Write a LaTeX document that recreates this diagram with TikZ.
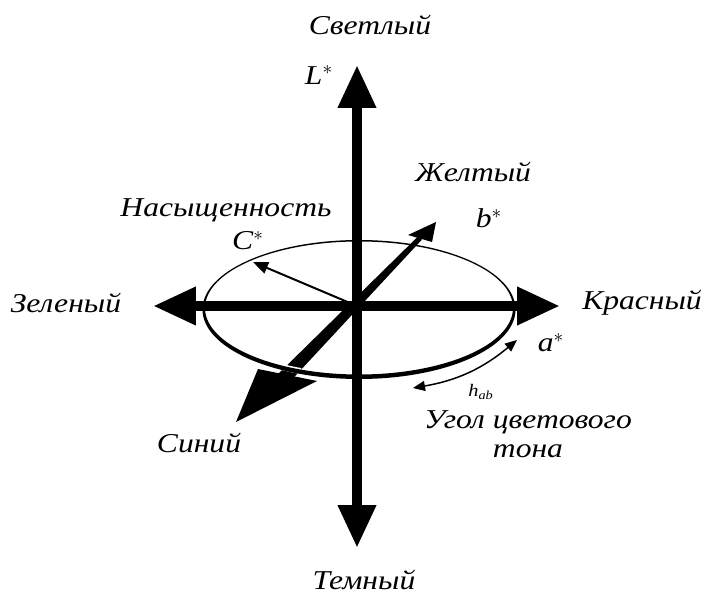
\documentclass[tikz,border=0pt]{standalone}
\usepackage{fontspec}
\setmainfont[FakeStretch=1.16]{Liberation Serif}
\usetikzlibrary{arrows.meta,calc}

\begin{document}
\begin{tikzpicture}[x=0.02cm, y=-0.02cm,
  lbl/.style={font=\fontsize{15.5}{16.5}\selectfont\itshape, inner sep=0pt},
  axis/.style={line width=0.2cm, {Triangle[length=0.86cm,width=0.72cm]}-{Triangle[length=0.86cm,width=0.72cm]}},
  thin arrow/.style={line width=0.04cm, -{Triangle[length=0.3cm,width=0.24cm]}}]
\useasboundingbox (0,0) rectangle (704,594);
% points
\coordinate (o) at (357,306);
\coordinate (Lt) at (357,65);
\coordinate (Lb) at (357,548);
\coordinate (al) at (153,306);
\coordinate (ar) at (560,306);
\coordinate (ec) at (359,308);
\coordinate (yt) at (436,222);
\coordinate (y1) at (408,235);
\coordinate (y2) at (432,242);
\coordinate (yb) at (420,238);
\coordinate (bt) at (236,422);
\coordinate (b1) at (258,369);
\coordinate (b2) at (317,381);
\coordinate (bb) at (281,381);
\coordinate (ct) at (253,262);
\coordinate (h1) at (413,388);
\coordinate (h2) at (517,340);
% b* axis
\fill ($(yb)!0.05cm!90:(bb)$) -- ($(yb)!0.05cm!-90:(bb)$) -- ($(bb)!0.14cm!90:(yb)$) -- ($(bb)!0.14cm!-90:(yb)$) -- cycle;
\fill (yt) -- (y1) -- (y2) -- cycle;
\fill (bt) -- (b1) -- (b2) -- cycle;
% ellipse
\draw[white, line width=0.12cm] ($(ec)+(112:155 and 68)$) arc[start angle=112, end angle=128, x radius=155, y radius=68];
\fill[even odd rule] ($(ec)+(0,1.5)$) ellipse [x radius=156.5, y radius=69.5] (ec) ellipse [x radius=154, y radius=66.5];
% C*
\draw[thin arrow] (o) -- (ct);
% L* and a*
\draw[axis] (al) -- (ar);
\draw[axis] (Lb) -- (Lt);
% h_ab
\draw[line width=0.03cm, {Triangle[length=0.24cm,width=0.2cm]}-{Triangle[length=0.24cm,width=0.2cm]}] (h1) to[bend right=15] (h2);
% labels
\node[lbl] (light) at (370,25) {Светлый};
\node[lbl] (lstar) at (319,75) {L$^{*}$};
\node[lbl] (yellow) at (473,172) {Желтый};
\node[lbl] (bstar) at (489,218) {b$^{*}$};
\node[lbl] (sat) at (226,210) {Насыщенность};
\node[lbl] (cstar) at (248,241) {C$^{*}$};
\node[lbl] (green) at (66,303) {Зеленый};
\node[lbl] (red) at (642,303) {Красный};
\node[lbl] (astar) at (551,343) {a$^{*}$};
\node[inner sep=0pt, font=\fontsize{10}{11}\selectfont\itshape] (hab) at (481,392) {h\textsubscript{ab}};
\node[lbl, align=center] (hue) at (528,434) {Угол цветового\\тона};
\node[lbl] (blue) at (199,443) {Синий};
\node[lbl] (dark) at (364,580) {Темный};
\end{tikzpicture}
\end{document}
